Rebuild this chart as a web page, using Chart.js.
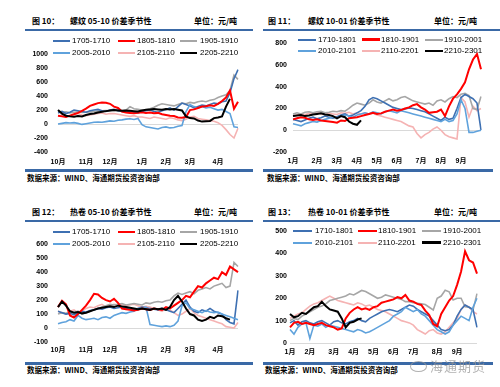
<!DOCTYPE html>
<html>
<head>
<meta charset="utf-8">
<script src="https://cdn.jsdelivr.net/npm/chart.js@4.4.0/dist/chart.umd.min.js"></script>
<style>
  body { margin: 0; background: #fff; }
  #page { position: relative; width: 500px; height: 387px; overflow: hidden; background: #fff; }
  .abs { position: absolute; white-space: nowrap; color: #000; }
  .title { font: bold 8px "Noto Sans CJK SC", sans-serif; line-height: 10px; }
  .src { font: bold 7.5px "Noto Sans CJK SC", sans-serif; line-height: 10px; }
  .rule { position: absolute; background: #3A69A6; }
  .lg-line { position: absolute; }
  .lg-text { position: absolute; white-space: nowrap; font: 8px "Liberation Sans", sans-serif; line-height: 10px; color: #000; }
  canvas { position: absolute; }
  #mark { position: absolute; left: 430px; top: 356px; font: 13px "Noto Sans CJK SC", sans-serif; color: rgba(150,150,150,0.75); letter-spacing: 1px; }
  #markIcon { position: absolute; left: 410px; top: 361px; width: 15px; height: 9px; border: 1px solid rgba(150,150,150,0.75); border-radius: 50%; }
</style>
</head>
<body>
<div id="page">
  <!-- 图10 -->
  <div class="abs title" style="left:32px;top:16px">图 10：</div>
  <div class="abs title" style="left:70px;top:16px">螺纹 05-10 价差季节性</div>
  <div class="abs title" style="right:263px;top:16px">单位：元/吨</div>
  <div class="rule" style="left:25px;top:29px;width:228px;height:2px"></div>
  <div class="rule" style="left:25px;top:169px;width:228px;height:3px"></div>
  <div class="abs src" style="left:27px;top:173px">数据来源：WIND、海通期货投资咨询部</div>

  <!-- 图11 -->
  <div class="abs title" style="left:268px;top:16px">图 11：</div>
  <div class="abs title" style="left:308px;top:16px">螺纹 10-01 价差季节性</div>
  <div class="abs title" style="right:23px;top:16px">单位：元/吨</div>
  <div class="rule" style="left:263px;top:29px;width:237px;height:2px"></div>
  <div class="rule" style="left:263px;top:169px;width:230px;height:3px"></div>
  <div class="abs src" style="left:267px;top:173px">数据来源：WIND、海通期货投资咨询部</div>

  <!-- 图12 -->
  <div class="abs title" style="left:32px;top:207px">图 12：</div>
  <div class="abs title" style="left:70px;top:207px">热卷 05-10 价差季节性</div>
  <div class="abs title" style="right:263px;top:207px">单位：元/吨</div>
  <div class="rule" style="left:25px;top:220px;width:228px;height:2px"></div>
  <div class="rule" style="left:25px;top:362px;width:228px;height:3px"></div>
  <div class="abs src" style="left:27px;top:365px">数据来源：WIND、海通期货投资咨询部</div>

  <!-- 图13 -->
  <div class="abs title" style="left:268px;top:207px">图 13：</div>
  <div class="abs title" style="left:308px;top:207px">热卷 10-01 价差季节性</div>
  <div class="abs title" style="right:23px;top:207px">单位：元/吨</div>
  <div class="rule" style="left:263px;top:220px;width:237px;height:2px"></div>
  <div class="rule" style="left:263px;top:362px;width:230px;height:3px"></div>
  <div class="abs src" style="left:265px;top:365px">数据来源：WIND、海通期货投资咨询部</div>

  <canvas id="c1" width="250" height="130" style="left:0;top:40px"></canvas>
  <canvas id="c2" width="250" height="137" style="left:250px;top:33px"></canvas>
  <canvas id="c3" width="250" height="133" style="left:0;top:230px"></canvas>
  <canvas id="c4" width="250" height="139" style="left:250px;top:224px"></canvas>

  <div id="markIcon"></div>
  <div id="mark">海通期货</div>
</div>

<script>
// x轴月份
const monthsA = ["10月", "11月", "12月", "1月", "2月", "3月", "4月"];
const monthPosA = [0, 7, 13, 21, 27, 33, 40];
const monthsB = ["1月", "2月", "3月", "4月", "5月", "6月", "7月", "8月", "9月"];
const monthPosB2 = [0, 6, 11, 16, 21, 26, 32, 37, 42];
const monthPosB4 = [0, 5, 11, 16, 21, 26, 31, 37, 42];

const namesA = ["1705-1710", "1805-1810", "1905-1910", "2005-2010", "2105-2110", "2205-2210"];
const namesB = ["1710-1801", "1810-1901", "1910-2001", "2010-2101", "2110-2201", "2210-2301"];

// 螺纹 05-10
const rb0510_17 = [160,180,150,170,200,190,180,170,190,200,210,190,180,200,210,190,180,170,180,170,160,180,190,200,180,170,190,210,230,200,250,300,280,260,230,250,270,260,280,300,290,320,330,450,650,780];
const rb0510_18 = [120,110,100,120,140,160,190,220,260,280,300,310,305,290,250,230,180,165,160,155,160,170,160,165,155,160,140,130,120,115,95,90,100,200,210,230,250,255,270,260,290,330,380,480,220,320];
const rb0510_19 = [180,170,175,160,170,175,165,170,175,180,185,190,195,190,195,200,190,200,250,220,210,200,205,220,240,270,290,280,270,260,280,300,290,310,300,320,330,320,340,350,380,400,420,480,700,640];
const rb0510_20 = [0,10,20,15,20,10,-5,5,15,25,30,25,35,45,40,55,60,70,75,65,80,-10,-40,-50,-60,-70,-50,-40,-55,-50,-30,-20,180,280,250,230,250,230,240,220,200,210,180,150,-40,-50];
const rb0510_21 = [120,130,110,120,140,150,130,120,130,140,150,160,140,150,150,140,130,120,110,120,100,100,90,80,100,90,80,70,90,80,60,50,70,100,110,80,70,60,50,40,20,-20,-80,-150,-200,-60];
const rb0510_22 = [200,150,120,110,105,115,110,130,145,150,165,175,185,195,200,195,190,195,190,185,180,195,205,210,215,210,205,215,210,215,205,195,110,85,80,50,35,40,45,85,95,110,250,360,null,null];

// 螺纹 10-01
const rb1001_17 = [100,90,80,95,110,120,105,115,130,120,110,125,140,150,130,140,160,180,220,280,300,290,270,250,230,210,200,190,195,205,200,190,180,170,150,130,110,90,120,100,110,200,300,330,310,290,250,0];
const rb1001_18 = [100,110,120,115,100,95,100,90,85,80,75,70,90,85,110,115,120,130,140,150,160,150,155,170,180,190,180,185,200,210,230,240,210,190,160,165,170,190,130,220,290,330,380,440,560,650,700,560];
const rb1001_19 = [150,160,150,165,170,160,170,175,160,165,175,170,180,175,200,230,250,240,230,250,280,260,250,270,290,270,280,300,310,290,270,260,250,240,250,230,270,280,260,290,310,300,330,340,320,200,190,310];
const rb1001_20 = [60,50,40,60,70,80,75,90,100,110,120,115,130,140,130,120,140,150,160,150,170,160,150,170,180,170,160,180,170,160,150,140,130,120,110,100,90,80,100,80,90,150,280,200,-20,-20,-10,0];
const rb1001_21 = [130,140,150,145,155,150,160,150,145,155,150,145,160,155,165,150,160,150,160,150,155,140,130,120,110,100,90,80,60,40,30,-30,-70,-40,-20,10,30,0,-40,-60,-70,-80,300,260,120,220,180,200];
const rb1001_22 = [130,135,140,130,135,145,150,155,145,140,130,110,130,120,80,60,50,90];

// 热卷 05-10
const hc0510_17 = [120,110,100,105,95,110,120,115,125,130,140,135,145,150,140,145,150,140,135,130,140,150,145,140,135,130,140,130,120,110,140,170,200,150,120,110,130,120,140,120,110,100,60,40,30,270];
const hc0510_18 = [150,195,170,90,75,100,130,160,200,245,240,215,200,190,210,180,140,135,130,125,130,140,135,130,140,135,130,150,140,160,180,200,230,220,260,300,290,320,340,360,350,400,380,440,420,400];
const hc0510_19 = [100,110,105,115,110,120,100,110,120,130,140,150,160,170,165,170,175,165,170,175,170,165,180,175,185,190,185,195,200,230,250,240,250,260,245,270,280,290,280,300,310,320,290,300,470,440];
const hc0510_20 = [30,40,45,60,50,90,70,60,65,70,60,75,80,70,90,100,110,105,115,120,140,145,150,25,20,15,10,15,10,20,50,160,180,140,130,120,110,125,115,110,115,100,90,80,70,60];
const hc0510_21 = [120,110,100,120,130,110,120,140,150,145,160,170,150,160,170,165,170,160,165,170,160,150,155,150,140,130,120,140,130,110,90,100,120,140,110,90,80,70,60,50,40,30,10,5,0,40];
const hc0510_22 = [150,190,160,120,110,115,105,110,120,130,140,145,150,155,150,160,155,150,145,140,135,140,135,130,140,135,140,130,150,200,230,190,140,100,90,60,50,60,80,70,90,85,70,60,null,null];

// 热卷 10-01
const hc1001_17 = [90,100,80,95,100,90,85,95,100,90,80,95,100,90,85,95,100,110,100,95,110,120,130,140,145,150,145,140,150,160,170,165,150,140,130,120,100,80,60,55,60,80,120,150,170,160,150,70];
const hc1001_18 = [70,90,95,85,90,85,80,85,90,80,75,70,60,65,110,135,150,160,150,155,148,160,165,180,185,190,195,205,200,215,190,185,175,170,145,125,85,75,130,160,190,210,260,320,410,370,360,310];
const hc1001_19 = [100,110,105,120,130,140,150,160,165,175,190,195,200,205,210,220,215,225,235,230,220,210,200,205,215,210,205,200,195,185,185,180,178,175,172,160,148,200,210,236,229,192,200,200,162,160,148,221];
const hc1001_20 = [60,40,70,85,90,20,80,75,85,70,80,75,70,65,60,55,50,60,55,45,50,60,70,80,90,100,120,130,140,160,150,140,150,130,120,100,80,60,50,40,50,80,100,120,110,100,160,200];
const hc1001_21 = [110,120,130,135,150,165,175,180,190,200,210,200,190,185,180,175,170,180,175,165,170,160,150,145,140,130,120,110,100,95,90,80,60,50,40,55,60,45,40,50,70,90,110,150,170,160,140,130];
const hc1001_22 = [130,115,120,135,130,145,160,165,185,165,150,145,140,110,70,90,95,105,110];

const COLORS = ["#3E70B2", "#FF0000", "#A6A6A6", "#5FA2DC", "#F5B3B3", "#000000"];
const WIDTHS = [1.6, 2, 1.6, 1.6, 1.6, 2];
const ORDERS = [3, 1, 4, 2, 5, 0];
const TICK_FONT = { size: 7, weight: "bold", family: '"Liberation Sans", "Noto Sans CJK SC", sans-serif' };

function buildLabels(n, months, pos) {
  const labels = [];
  for (let i = 0; i < n; i++) {
    const k = pos.indexOf(i);
    labels.push(k >= 0 ? months[k] : "");
  }
  return labels;
}

function addLegend(names, lg) {
  const page = document.getElementById("page");
  names.forEach((name, k) => {
    const row = Math.floor(k / 3), col = k % 3;
    const y = lg.rows[row];
    const line = document.createElement("div");
    line.className = "lg-line";
    const h = WIDTHS[k] > 1.8 ? 2.5 : 2;
    line.style.cssText = `left:${lg.lineX[col]}px;top:${y - h / 2}px;width:${lg.lineW}px;height:${h}px;background:${COLORS[k]}`;
    page.appendChild(line);
    const txt = document.createElement("div");
    txt.className = "lg-text";
    txt.style.left = lg.textX[col] + "px";
    txt.style.top = (y - 5) + "px";
    txt.textContent = name;
    page.appendChild(txt);
  });
}

function drawPanel(id, series, names, months, pos, y, box) {
  const n = series[0].length;
  new Chart(document.getElementById(id), {
    type: "line",
    data: {
      labels: buildLabels(n, months, pos),
      datasets: series.map((data, k) => ({
        label: names[k],
        data: data,
        borderColor: COLORS[k],
        backgroundColor: COLORS[k],
        borderWidth: WIDTHS[k],
        pointRadius: 0,
        tension: 0,
        fill: false,
        order: ORDERS[k],
      })),
    },
    options: {
      responsive: false,
      animation: false,
      devicePixelRatio: 1,
      layout: { padding: { top: box.padTop, right: box.padRight, left: 0, bottom: 0 } },
      plugins: { legend: { display: false }, tooltip: { enabled: false } },
      scales: {
        x: {
          grid: { display: false, drawTicks: false },
          border: { display: false },
          ticks: { autoSkip: false, maxRotation: 0, padding: box.xPad, color: "#000", font: TICK_FONT },
          afterFit: (s) => { s.height = box.xH; },
        },
        y: {
          min: y.min,
          max: y.max,
          grid: {
            drawTicks: false,
            color: (c) => (c.tick && c.tick.value === 0 ? "#D9D9D9" : "rgba(0,0,0,0)"),
          },
          border: { display: false },
          ticks: { stepSize: y.step, padding: box.yPad, color: "#000", font: TICK_FONT, callback: (v) => String(v) },
          afterFit: (s) => { s.width = box.yW; },
        },
      },
    },
  });
}

drawPanel("c1", [rb0510_17, rb0510_18, rb0510_19, rb0510_20, rb0510_21, rb0510_22], namesA, monthsA, monthPosA,
  { min: -400, max: 1000, step: 200 },
  { yW: 58, xH: 18, padTop: 7, padRight: 12, yPad: 10, xPad: 6 });
drawPanel("c2", [rb1001_17, rb1001_18, rb1001_19, rb1001_20, rb1001_21, rb1001_22], namesB, monthsB, monthPosB2,
  { min: -200, max: 800, step: 200 },
  { yW: 43, xH: 18, padTop: 7, padRight: 19, yPad: 6, xPad: 5 });
drawPanel("c3", [hc0510_17, hc0510_18, hc0510_19, hc0510_20, hc0510_21, hc0510_22], namesA, monthsA, monthPosA,
  { min: -100, max: 600, step: 100 },
  { yW: 58, xH: 21, padTop: 7, padRight: 12, yPad: 10, xPad: 4 });
drawPanel("c4", [hc1001_17, hc1001_18, hc1001_19, hc1001_20, hc1001_21, hc1001_22], namesB, monthsB, monthPosB4,
  { min: 0, max: 500, step: 100 },
  { yW: 40, xH: 20, padTop: 7, padRight: 23, yPad: 3, xPad: 5 });

addLegend(namesA, { rows: [41, 53], lineX: [53, 118, 180], lineW: 17, textX: [72, 137, 200] });
addLegend(namesB, { rows: [39.5, 51], lineX: [298, 362, 425], lineW: 18, textX: [318, 381, 444] });
addLegend(namesA, { rows: [232, 244], lineX: [53, 118, 180], lineW: 17, textX: [72, 137, 200] });
addLegend(namesB, { rows: [231, 242.5], lineX: [293, 358, 422], lineW: 19, textX: [315, 378, 443] });
</script>
</body>
</html>
